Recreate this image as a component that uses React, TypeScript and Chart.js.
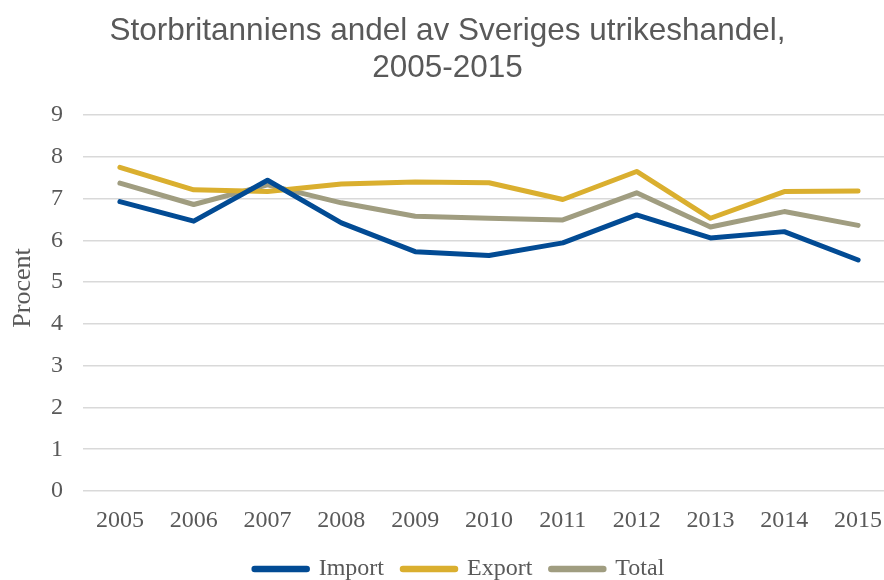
import React, { useEffect, useRef } from "react";
import { Chart, registerables } from "chart.js";

Chart.register(...registerables);

const years = ["2005", "2006", "2007", "2008", "2009", "2010", "2011", "2012", "2013", "2014", "2015"];
const importValues = [6.93, 6.46, 7.44, 6.42, 5.73, 5.64, 5.94, 6.61, 6.06, 6.21, 5.53];
const exportValues = [7.75, 7.21, 7.17, 7.35, 7.40, 7.38, 6.98, 7.65, 6.53, 7.17, 7.18];
const totalValues = [7.37, 6.86, 7.33, 6.90, 6.58, 6.53, 6.49, 7.14, 6.32, 6.69, 6.36];
const titleLines = ["Storbritanniens andel av Sveriges utrikeshandel,", "2005-2015"];
const yTitle = "Procent";

const TEXT = "#595959";
const SERIF = "'Liberation Serif', 'Times New Roman', serif";

const axisTitlePlugin = {
  id: "axisTitleCustom",
  afterDraw(chart: any) {
    const ctx = chart.ctx;
    ctx.save();
    ctx.translate(23, 288);
    ctx.rotate(-Math.PI / 2);
    ctx.font = `26px ${SERIF}`;
    ctx.fillStyle = TEXT;
    ctx.textAlign = "center";
    ctx.textBaseline = "middle";
    ctx.fillText(yTitle, 0, 0);
    ctx.restore();
  },
};

const legendShiftPlugin = {
  id: "legendShift",
  afterLayout(chart: any) {
    const lg = chart.legend;
    if (!lg) return;
    lg.left += 12;
    lg.right += 12;
    lg.top += 11;
    lg.bottom += 11;
  },
};

export default function App() {
  const ref = useRef<HTMLCanvasElement | null>(null);
  useEffect(() => {
    if (!ref.current) return;
    const mk = (label: string, data: number[], color: string) => ({
      label,
      data,
      borderColor: color,
      backgroundColor: color,
      borderWidth: 5,
      borderCapStyle: "round" as const,
      borderJoinStyle: "round" as const,
      pointRadius: 0,
      pointStyle: "line" as const,
      tension: 0,
    });
    const chart = new Chart(ref.current, {
      type: "line",
      data: {
        labels: years,
        datasets: [
          mk("Import", importValues, "#024B94"),
          mk("Export", exportValues, "#DAAF2F"),
          mk("Total", totalValues, "#A09D80"),
        ],
      },
      plugins: [axisTitlePlugin, legendShiftPlugin],
      options: {
        responsive: false,
        animation: false,
        layout: { padding: { left: 0, right: 5, top: 12, bottom: 0 } },
        plugins: {
          title: {
            display: true,
            text: titleLines,
            color: TEXT,
            font: { family: "'Liberation Sans', Arial, sans-serif", size: 31.5, weight: "normal", lineHeight: 1.2 },
            padding: { top: 0, bottom: 27.5 },
          },
          legend: {
            position: "bottom",
            labels: {
              usePointStyle: true,
              pointStyleWidth: 52,
              color: TEXT,
              font: { family: SERIF, size: 24 },
              padding: 19,
              boxHeight: 6,
              generateLabels: (chart: any) =>
                Chart.defaults.plugins.legend.labels.generateLabels(chart).map((l: any) => ({
                  ...l,
                  lineWidth: 6.5,
                  lineCap: "round",
                })),
            },
          },
          tooltip: { enabled: false },
        },
        scales: {
          x: {
            offset: true,
            grid: { display: false },
            border: { display: false },
            ticks: { color: TEXT, font: { family: SERIF, size: 24 }, padding: 7, maxRotation: 0 },
            afterFit: (scale: any) => {
              scale.height = 36;
            },
          },
          y: {
            min: 0,
            max: 9,
            ticks: { stepSize: 1, color: TEXT, font: { family: SERIF, size: 24 }, padding: 20 },
            grid: { color: "#D9D9D9", lineWidth: 1.5, drawTicks: false },
            border: { display: false },
            afterFit: (scale: any) => {
              scale.width = 83;
            },
          },
        },
      },
    });
    return () => chart.destroy();
  }, []);
  return (
    <div style={{ position: "fixed", left: 0, top: 0, width: 884, height: 580, overflow: "hidden", background: "#fff" }}>
      <canvas ref={ref} width={900} height={580} style={{ width: 900, height: 580, display: "block" }} />
    </div>
  );
}
